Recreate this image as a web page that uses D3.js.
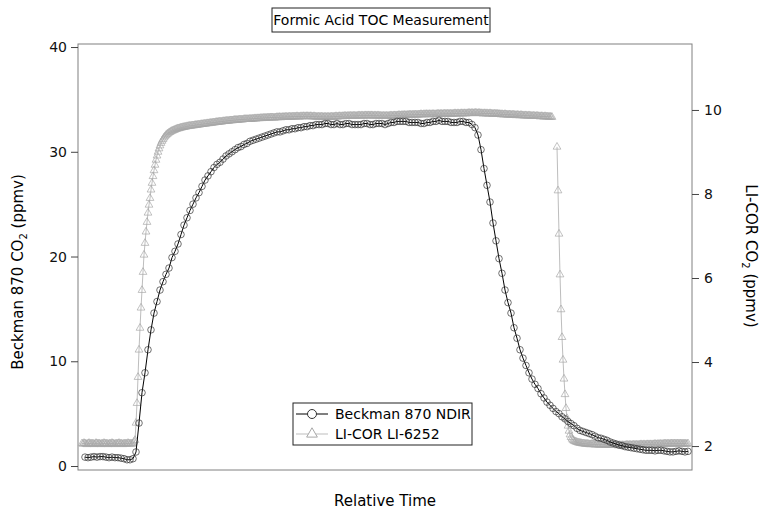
<!DOCTYPE html>
<html>
<head>
<meta charset="utf-8">
<script src="https://cdn.jsdelivr.net/npm/d3@7"></script>
<style>
  body { margin: 0; background: #fff; }
  svg { font-family: "DejaVu Sans", sans-serif; }
</style>
</head>
<body>
<svg width="760" height="512"></svg>
<script>
// Beckman 870 NDIR, left axis (ppmv), one sample every 3 time units
const beckmanStart = 3, beckmanStep = 3;
const beckmanValues = [
  0.85,0.80,0.85,0.90,0.85,0.90,0.90,0.85,0.80,0.85,
  0.80,0.80,0.75,0.70,0.60,0.60,0.70,1.34,4.10,7.00,
  8.90,11.1,13.0,14.6,15.7,16.8,17.6,18.3,18.9,19.9,
  20.5,21.2,22.1,23.0,23.7,24.4,25.0,25.6,26.1,26.7,
  27.3,27.7,28.1,28.5,28.8,29.0,29.3,29.6,29.8,30.0,
  30.2,30.4,30.5,30.7,30.8,31.0,31.1,31.2,31.3,31.4,
  31.5,31.6,31.7,31.8,31.9,31.9,32.0,32.1,32.1,32.2,
  32.2,32.3,32.3,32.4,32.4,32.5,32.5,32.6,32.6,32.6,
  32.7,32.7,32.6,32.6,32.7,32.6,32.6,32.7,32.7,32.6,
  32.6,32.6,32.6,32.7,32.7,32.6,32.6,32.7,32.7,32.7,
  32.6,32.7,32.8,32.8,32.9,32.9,32.9,32.9,32.8,32.8,
  32.8,32.8,32.7,32.7,32.8,32.8,32.9,32.9,33.0,32.9,
  32.9,32.9,32.8,32.8,32.8,32.9,32.9,32.8,32.8,32.6,
  32.3,31.6,30.2,28.4,26.8,25.2,23.2,21.5,19.8,18.4,
  16.8,15.6,14.6,13.2,12.2,11.1,10.3,9.6,8.9,8.3,
  7.8,7.4,6.9,6.5,6.1,5.8,5.5,5.2,5.0,4.7,
  4.5,4.25,4.05,3.85,3.6,3.4,3.3,3.2,3.1,3.0,
  2.85,2.7,2.65,2.55,2.45,2.3,2.2,2.1,2.0,1.95,
  1.85,1.8,1.75,1.7,1.65,1.6,1.55,1.5,1.5,1.5,
  1.45,1.5,1.5,1.45,1.4,1.35,1.35,1.4,1.45,1.4,
  1.35,1.4
];

// LI-COR LI-6252, right axis (ppmv), one sample per time unit, null = missing
const licorStart = 0, licorStep = 1;
const licorValues = [
  2.06,2.05,2.07,2.06,2.05,2.04,2.06,2.07,2.05,2.06,
  2.05,2.06,2.04,2.05,2.07,2.06,2.05,2.06,2.05,2.04,
  2.06,2.05,2.07,2.06,2.05,2.06,2.04,2.05,2.06,2.05,
  2.07,2.06,2.05,2.04,2.06,2.05,2.06,2.07,2.05,2.06,
  2.05,2.04,2.06,2.05,2.06,2.05,2.07,2.06,2.05,2.06,
  2.05,2.06,2.10,2.14,
  2.55,3.02,3.64,4.29,4.81,5.29,5.71,6.14,6.55,6.83,
  7.10,7.33,7.55,7.74,7.90,8.10,8.26,8.42,8.56,8.69,
  8.81,8.91,9.00,9.08,
  9.15,9.21,9.26,9.30,9.34,9.37,9.40,9.42,9.44,9.46,
  9.47,9.49,9.50,9.51,9.52,9.53,9.54,9.55,9.56,9.56,
  9.57,9.58,9.58,9.59,9.59,9.60,9.60,9.61,9.61,9.62,
  9.62,9.62,9.63,9.63,9.63,9.64,9.64,9.64,9.65,9.65,
  9.65,9.66,9.66,9.66,9.67,9.67,9.67,9.68,9.68,9.68,
  9.69,9.69,9.69,9.70,9.70,9.70,9.71,9.71,9.71,9.72,
  9.72,9.72,9.72,9.73,9.73,9.73,9.74,9.74,9.74,9.74,
  9.75,9.75,9.75,9.75,9.76,9.76,9.76,9.76,9.76,9.77,
  9.77,9.77,9.77,9.77,9.78,9.78,9.78,9.78,9.78,9.78,
  9.79,9.78,9.79,9.79,9.79,9.80,9.79,9.80,9.80,9.80,
  9.80,9.81,9.80,9.81,9.81,9.81,9.81,9.81,9.82,9.81,
  9.82,9.82,9.82,9.82,9.81,9.82,9.82,9.83,9.82,9.83,
  9.83,9.82,9.83,9.83,9.83,9.83,9.84,9.83,9.83,9.84,
  9.84,9.83,9.84,9.84,9.84,9.84,9.84,9.85,9.84,9.84,
  9.84,9.85,9.84,9.85,9.85,9.84,9.85,9.85,9.85,9.84,
  9.85,9.85,9.84,9.84,9.85,9.84,9.84,9.83,9.84,9.84,
  9.83,9.84,9.84,9.83,9.83,9.84,9.83,9.83,9.84,9.83,
  9.83,9.84,9.84,9.83,9.84,9.84,9.85,9.84,9.84,9.85,
  9.85,9.84,9.85,9.85,9.85,9.86,9.85,9.85,9.86,9.85,
  9.86,9.86,9.85,9.86,9.86,9.86,9.85,9.86,9.86,9.87,
  9.86,9.86,9.87,9.86,9.86,9.87,9.87,9.86,9.87,9.87,
  9.86,9.87,9.87,9.86,9.86,9.87,9.86,9.86,9.87,9.86,
  9.86,9.86,9.85,9.86,9.86,9.85,9.86,9.86,9.85,9.86,
  9.86,9.87,9.86,9.86,9.87,9.87,9.86,9.87,9.87,9.88,
  9.87,9.87,9.88,9.87,9.88,9.88,9.87,9.88,9.88,9.88,
  9.89,9.88,9.88,9.89,9.88,9.89,9.89,9.88,9.89,9.89,
  9.89,9.90,9.89,9.89,9.90,9.89,9.90,9.90,9.89,9.90,
  9.90,9.89,9.90,9.90,9.90,9.89,9.90,9.90,9.91,9.90,
  9.90,9.91,9.90,9.90,9.91,9.91,9.90,9.91,9.91,9.90,
  9.91,9.91,9.90,9.91,9.91,9.92,9.91,9.91,9.92,9.91,
  9.91,9.92,9.92,9.91,9.92,9.92,9.91,9.92,9.92,9.93,
  9.92,9.92,9.93,9.92,9.92,9.93,9.93,9.92,9.92,9.93,
  9.92,9.92,9.92,9.91,9.92,9.92,9.91,9.92,9.91,9.91,
  9.92,9.91,9.91,9.90,9.91,9.91,9.90,9.91,9.90,9.90,
  9.90,9.89,9.90,9.89,9.89,9.90,9.89,9.89,9.88,9.89,
  9.89,9.88,9.88,9.89,9.88,9.88,9.87,9.88,9.88,9.87,
  9.87,9.88,9.87,9.87,9.86,9.87,9.87,9.86,9.86,9.87,
  9.86,9.86,9.85,9.86,9.86,9.85,9.85,9.86,9.85,9.85,
  9.84,9.85,9.85,9.84,9.84,9.85,9.84,9.84,9.84,9.83,
  9.84,9.83,9.83,
  null,null,null,null,
  9.12,8.08,7.05,6.08,5.25,4.59,4.05,3.60,3.23,2.90,
  2.66,2.48,2.36,2.27,2.21,2.17,
  2.14,2.12,2.11,2.10,2.09,2.08,2.08,2.07,2.07,2.06,
  2.06,2.06,2.05,2.05,2.05,2.05,2.04,2.04,2.04,2.05,
  2.04,2.04,2.03,2.04,2.04,2.03,2.03,
  2.03,2.04,2.03,2.03,2.04,2.03,2.02,2.03,2.03,2.02,
  2.03,2.02,2.02,2.03,2.02,2.02,2.03,2.02,2.01,2.02,
  2.02,2.01,2.02,2.02,2.01,2.02,2.02,2.03,2.02,2.02,
  2.03,2.02,2.02,2.03,2.03,2.02,2.03,2.03,2.02,2.03,
  2.03,2.04,2.03,2.03,2.04,2.03,2.03,2.04,2.04,2.03,
  2.04,2.04,2.03,2.04,2.04,2.05,2.04,2.04,2.05,2.04,
  2.05,2.05,2.04,2.05,2.05,2.06,2.05,2.05,2.06,2.05,
  2.05,2.06,2.06,2.05,2.06,2.06,2.05,2.06,2.06,2.05,
  2.06,2.06,2.05,2.06,2.05,2.06,2.05,2.05,2.06
];

const leftTicks = [0, 10, 20, 30, 40];
const rightTicks = [2, 4, 6, 8, 10];
const seriesNames = ["Beckman 870 NDIR", "LI-COR LI-6252"];

const svg = d3.select("svg");
const plot = { left: 78, right: 692, top: 44, bottom: 470 };
const frameColor = "#808080";

const beckman = beckmanValues.map((v, i) => ({ t: beckmanStart + i * beckmanStep, v }));
const licor = licorValues.map((v, i) => ({ t: licorStart + i * licorStep, v }));

const x = d3.scaleLinear().domain([-4, 610]).range([plot.left, plot.right]);
const yLeft = d3.scaleLinear().domain([-0.38, 40.29]).range([plot.bottom, plot.top]);
const yRight = d3.scaleLinear().domain([1.43, 11.57]).range([plot.bottom, plot.top]);

// frame
svg.append("rect")
  .attr("x", plot.left).attr("y", plot.top)
  .attr("width", plot.right - plot.left).attr("height", plot.bottom - plot.top)
  .attr("fill", "none").attr("stroke", frameColor);

// axes
const leftAxis = svg.append("g")
  .attr("transform", `translate(${plot.left},0)`)
  .call(d3.axisLeft(yLeft).tickValues(leftTicks).tickSize(7).tickPadding(4));
const rightAxis = svg.append("g")
  .attr("transform", `translate(${plot.right},0)`)
  .call(d3.axisRight(yRight).tickValues(rightTicks).tickSize(7).tickPadding(5));
[leftAxis, rightAxis].forEach(g => {
  g.select(".domain").remove();
  g.selectAll(".tick line").attr("stroke", "#444");
  g.selectAll(".tick text").attr("font-size", 14).attr("fill", "#111")
    .attr("font-family", "DejaVu Sans, sans-serif");
});

// LI-COR series
const licorLine = d3.line().defined(d => d.v != null)
  .x(d => x(d.t)).y(d => yRight(d.v));
svg.append("path").datum(licor)
  .attr("d", licorLine).attr("fill", "none")
  .attr("stroke", "#bdbdbd").attr("stroke-width", 1);
const tri = d3.symbol().type(d3.symbolTriangle).size(26);
svg.append("g").selectAll("path")
  .data(licor.filter(d => d.v != null))
  .join("path")
  .attr("d", tri)
  .attr("transform", d => `translate(${x(d.t)},${yRight(d.v)})`)
  .attr("fill", "none").attr("stroke", "#a8a8a8").attr("stroke-width", 0.7);

// Beckman series
const beckmanLine = d3.line().x(d => x(d.t)).y(d => yLeft(d.v));
svg.append("path").datum(beckman)
  .attr("d", beckmanLine).attr("fill", "none")
  .attr("stroke", "#000").attr("stroke-width", 1);
svg.append("g").selectAll("circle")
  .data(beckman)
  .join("circle")
  .attr("cx", d => x(d.t)).attr("cy", d => yLeft(d.v)).attr("r", 3.3)
  .attr("fill", "none").attr("stroke", "#333").attr("stroke-width", 0.7);

// title
const titleW = 218;
svg.append("rect").attr("x", 381 - titleW / 2).attr("y", 8)
  .attr("width", titleW).attr("height", 24)
  .attr("fill", "#fff").attr("stroke", "#222");
svg.append("text").attr("x", 381).attr("y", 20)
  .attr("text-anchor", "middle").attr("dominant-baseline", "central")
  .attr("font-size", 14).text("Formic Acid TOC Measurement");

// axis titles
const leftTitle = svg.append("text")
  .attr("transform", "translate(23,272) rotate(-90)")
  .attr("text-anchor", "middle").attr("font-size", 15);
leftTitle.append("tspan").text("Beckman 870 CO");
leftTitle.append("tspan").attr("font-size", 10).attr("dy", 4).text("2");
leftTitle.append("tspan").attr("dy", -4).text(" (ppmv)");

const rightTitle = svg.append("text")
  .attr("transform", "translate(746,256) rotate(90)")
  .attr("text-anchor", "middle").attr("font-size", 15);
rightTitle.append("tspan").text("LI-COR CO");
rightTitle.append("tspan").attr("font-size", 10).attr("dy", 4).text("2");
rightTitle.append("tspan").attr("dy", -4).text("  (ppmv)");

svg.append("text").attr("x", 385).attr("y", 506)
  .attr("text-anchor", "middle").attr("font-size", 15).text("Relative Time");

// legend
const legend = svg.append("g");
legend.append("rect").attr("x", 293).attr("y", 403)
  .attr("width", 179).attr("height", 42)
  .attr("fill", "#fff").attr("stroke", "#222");
const rows = [
  { name: seriesNames[0], y: 414, line: "#000", mark: "#333", shape: "circle" },
  { name: seriesNames[1], y: 434, line: "#bdbdbd", mark: "#a8a8a8", shape: "tri" }
];
rows.forEach(r => {
  legend.append("line").attr("x1", 296).attr("x2", 328)
    .attr("y1", r.y).attr("y2", r.y).attr("stroke", r.line);
  if (r.shape === "circle") {
    legend.append("circle").attr("cx", 312).attr("cy", r.y).attr("r", 4.5)
      .attr("fill", "#fff").attr("stroke", r.mark);
  } else {
    legend.append("path").attr("d", d3.symbol().type(d3.symbolTriangle).size(50)())
      .attr("transform", `translate(312,${r.y})`)
      .attr("fill", "#fff").attr("stroke", r.mark);
  }
  legend.append("text").attr("x", 335).attr("y", r.y)
    .attr("dominant-baseline", "central").attr("font-size", 14).text(r.name);
});
</script>
</body>
</html>
